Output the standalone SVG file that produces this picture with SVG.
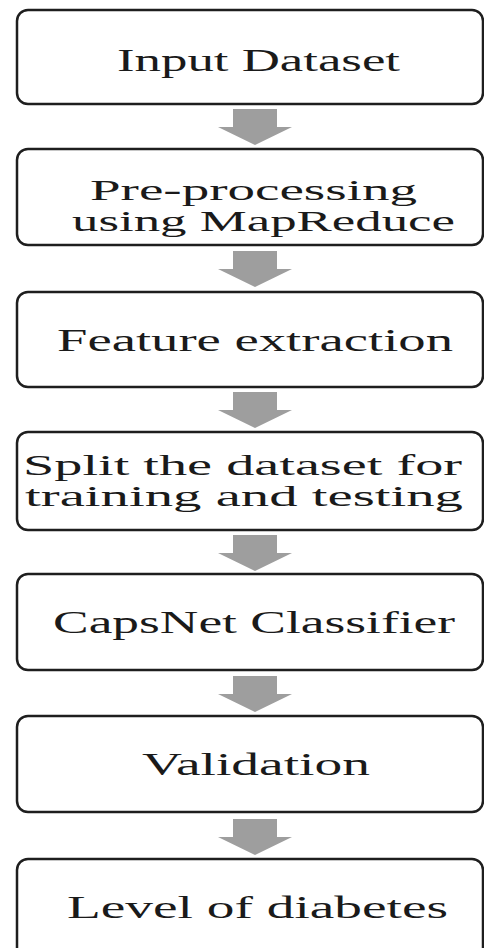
<svg xmlns="http://www.w3.org/2000/svg" width="484" height="948" viewBox="0 0 484 948">
<style>
.box{fill:#fff;stroke:#1e1e1e;stroke-width:2.5}
.lbl{font-family:"Liberation Serif","Times New Roman",serif;font-size:32px;fill:#1a1a1a}
.two{font-size:29px}
.arr{fill:#9e9e9e}
</style>
<defs>
<path id="dn" d="M-22,0 H22 V18 H37 L0,36 L-37,18 H-22 Z"/>
</defs>
<rect width="484" height="948" fill="#fff"/>
<g id="connectors">
<use href="#dn" class="arr" x="255" y="109"/>
<use href="#dn" class="arr" x="255" y="251"/>
<use href="#dn" class="arr" x="255" y="392"/>
<use href="#dn" class="arr" x="255" y="535"/>
<use href="#dn" class="arr" x="255" y="676"/>
<use href="#dn" class="arr" x="255" y="819"/>
</g>
<g id="n1"><rect class="box" x="17" y="10" width="466" height="94" rx="11"/>
<text class="lbl" x="117" y="71" textLength="283" lengthAdjust="spacingAndGlyphs">Input Dataset</text></g>
<g id="n2"><rect class="box" x="17" y="149" width="466" height="96" rx="11"/>
<text class="lbl two" x="90" y="200" textLength="327" lengthAdjust="spacingAndGlyphs">Pre-processing</text>
<text class="lbl two" x="72" y="231" textLength="383" lengthAdjust="spacingAndGlyphs">using MapReduce</text></g>
<g id="n3"><rect class="box" x="17" y="292" width="466" height="95" rx="11"/>
<text class="lbl" x="57" y="351" textLength="396" lengthAdjust="spacingAndGlyphs">Feature extraction</text></g>
<g id="n4"><rect class="box" x="17" y="432" width="466" height="98" rx="11"/>
<text class="lbl two" x="23" y="475" textLength="439" lengthAdjust="spacingAndGlyphs">Split the dataset for</text>
<text class="lbl two" x="25" y="506" textLength="438" lengthAdjust="spacingAndGlyphs">training and testing</text></g>
<g id="n5"><rect class="box" x="17" y="574" width="466" height="96" rx="11"/>
<text class="lbl" x="53" y="633" textLength="402" lengthAdjust="spacingAndGlyphs">CapsNet Classifier</text></g>
<g id="n6"><rect class="box" x="17" y="716" width="466" height="96" rx="11"/>
<text class="lbl" x="142" y="775" textLength="228" lengthAdjust="spacingAndGlyphs">Validation</text></g>
<g id="n7"><rect class="box" x="17" y="859" width="466" height="100" rx="11"/>
<text class="lbl" x="67" y="918" textLength="381" lengthAdjust="spacingAndGlyphs">Level of diabetes</text></g>
</svg>
